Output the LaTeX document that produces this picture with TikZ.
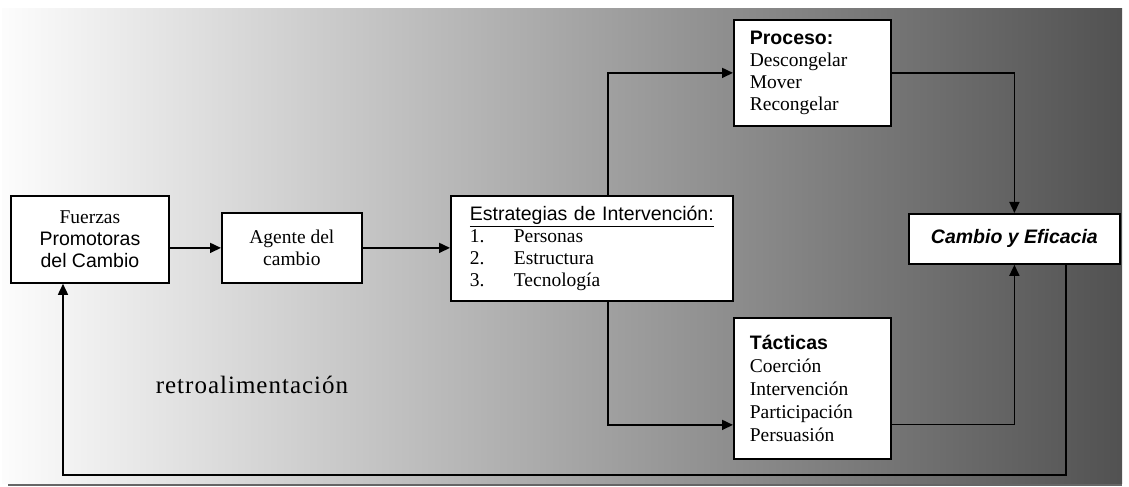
\documentclass[tikz,border=0pt]{standalone}
\usepackage{fontspec}
\setmainfont{Liberation Serif}
\setsansfont{Liberation Sans}
\usetikzlibrary{arrows.meta,calc}
\begin{document}
\begin{tikzpicture}[x=1bp,y=-1bp,
  box/.style={draw=black, line width=1.8bp, fill=white, inner sep=0pt,
    font=\fontsize{19.5bp}{22bp}\selectfont},
  conn/.style={line width=1.6bp, draw=black},
  arr/.style={conn, -{Triangle[length=11bp,width=10bp]}}]
\useasboundingbox[fill=white] (0,0) rectangle (1129,487);
\shade[left color=black!1, right color=black!68] (2,9) rectangle (1122,483);
\draw[black!60, line width=1.5bp] (8,485) -- (1122,485);

\node[box, anchor=north west, minimum width=158bp, minimum height=87bp, align=center] (Fu) at (10,195)
  {Fuerzas\\ \sffamily Promotoras\\ \sffamily del Cambio};
\node[box, anchor=north west, minimum width=140bp, minimum height=70bp, align=center] (Ag) at (221,212)
  {Agente del\\ cambio};
\node[box, anchor=north west, minimum width=282bp, minimum height=105bp, text width=244bp, align=left] (Es) at (450,195)
  {{\sffamily\underline{Estrategias de Intervención:}}\\
   \makebox[44bp][l]{1.}Personas\\
   \makebox[44bp][l]{2.}Estructura\\
   \makebox[44bp][l]{3.}Tecnología};
\node[box, anchor=north west, minimum width=157bp, minimum height=106bp, text width=125bp, align=left] (Pr) at (733,19)
  {{\sffamily\bfseries Proceso:}\\ Descongelar\\ Mover\\ Recongelar};
\node[box, anchor=north west, minimum width=157bp, minimum height=141bp, text width=125bp, align=left,
  font=\fontsize{19.5bp}{23bp}\selectfont] (Ta) at (733,317)
  {{\sffamily\bfseries Tácticas}\\ Coerción\\ Intervención\\ Participación\\ Persuasión};
\node[box, anchor=north west, minimum width=211bp, minimum height=50bp,
  font=\fontsize{19.5bp}{22bp}\selectfont\sffamily\bfseries\itshape] (Ca) at (908,213)
  {Cambio y Eficacia};

\node[font=\fontsize{25bp}{28bp}\selectfont\addfontfeatures{LetterSpace=4}] (retro) at (252,385) {retroalimentación};

\coordinate (split) at (608,0);
\coordinate (fbR) at (1066,475);
\coordinate (fbL) at (63,475);

\draw[arr] (Fu.east |- Ag.west) -- (Ag.west);
\draw[arr] (Ag.east) -- (Es.west |- Ag.east);
\draw[arr] (Es.north -| split) |- (Pr.west);
\draw[arr] (Es.south -| split) |- ($(Ta.west)+(0,36.5)$);
\draw[arr] (Pr.east) -| (Ca.north);
\draw[arr] ($(Ta.east)+(0,36)$) -| (Ca.south);
\draw[arr] (Ca.south -| fbR) -- (fbR) -- (fbL) -- (fbL |- Fu.south);
\end{tikzpicture}
\end{document}
